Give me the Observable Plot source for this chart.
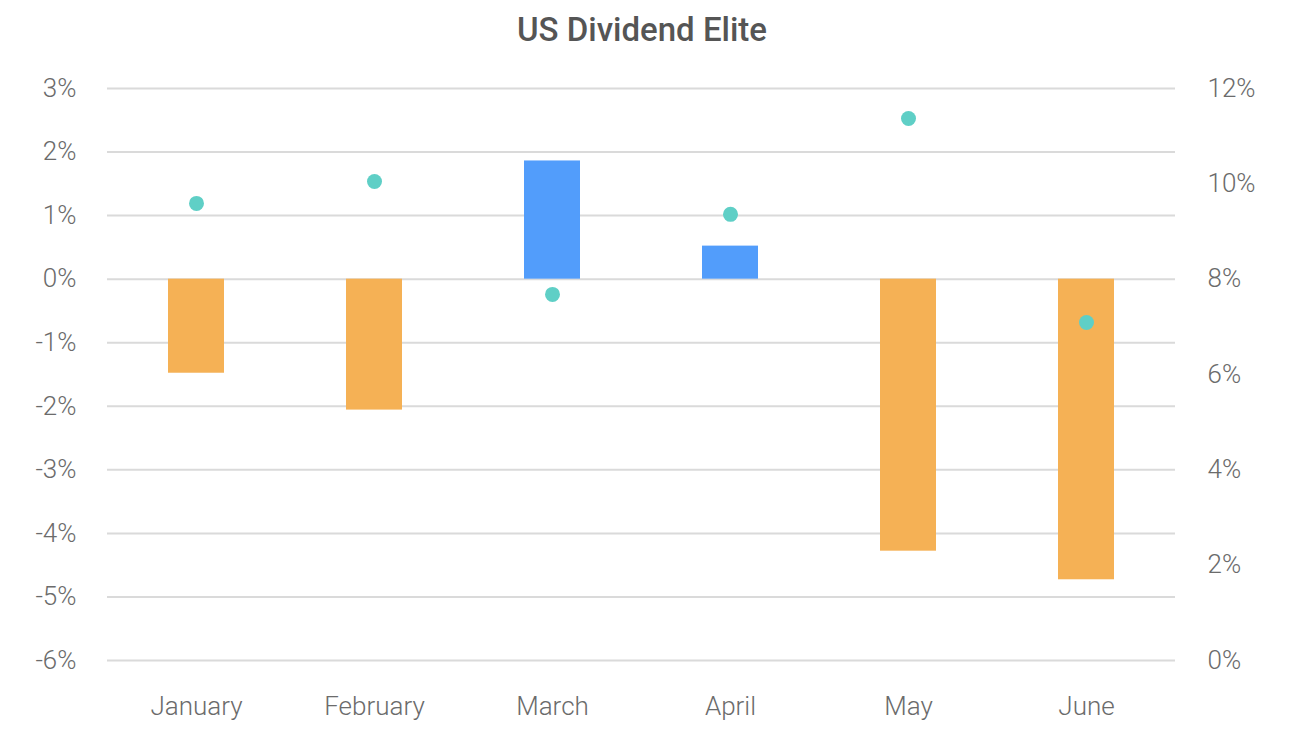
<!DOCTYPE html>
<html>
<head>
<meta charset="utf-8">
<script src="https://cdn.jsdelivr.net/npm/d3@7"></script>
<script src="https://cdn.jsdelivr.net/npm/@observablehq/plot@0.6"></script>
<style>
  html, body { margin: 0; padding: 0; background: #fff; }
  #wrap { position: relative; width: 1294px; height: 729px; }
  #title { position: absolute; left: -5px; top: 10px; width: 1294px; text-align: center;
    font-family: Roboto, "Open Sans", sans-serif; font-weight: 500; font-size: 33px; color: #555; letter-spacing: 0px; }
  #chart { position: absolute; left: 0; top: 0; }
</style>
</head>
<body>
<div id="wrap">
  <div id="chart"></div>
  <div id="title">US Dividend Elite</div>
</div>
<script>
const months = ["January", "February", "March", "April", "May", "June"];
const monthlyReturn = [-1.48, -2.06, 1.86, 0.52, -4.28, -4.73];   // left axis, %
const yieldValue = [9.59, 10.05, 7.68, 9.36, 11.37, 7.09];          // right axis, %
const leftTicks = [3, 2, 1, 0, -1, -2, -3, -4, -5, -6];
const rightTicks = [0, 2, 4, 6, 8, 10, 12];

const leftDomain = [-6, 3];
const rightDomain = [0, 12];
// map right-axis value onto left-axis scale
const toLeft = v => leftDomain[0] + (v - rightDomain[0]) * (leftDomain[1] - leftDomain[0]) / (rightDomain[1] - rightDomain[0]);
const fromLeft = l => rightDomain[0] + (l - leftDomain[0]) * (rightDomain[1] - rightDomain[0]) / (leftDomain[1] - leftDomain[0]);

const bars = months.map((m, i) => ({month: m, value: monthlyReturn[i]}));
const dots = months.map((m, i) => ({month: m, value: yieldValue[i]}));

const font = "Roboto, 'Open Sans', sans-serif";

const chart = Plot.plot({
  width: 1294,
  height: 729,
  marginLeft: 107,
  marginRight: 119,
  marginTop: 88,
  marginBottom: 69,
  style: {fontFamily: font, fontSize: "26px", color: "#6b6b6b", background: "transparent"},
  x: {domain: months, paddingInner: 0.685, paddingOuter: 0.3425, label: null},
  y: {domain: leftDomain, label: null},
  marks: [
    Plot.ruleY(leftTicks, {stroke: "#dadada", strokeWidth: 2}),
    Plot.barY(bars, {x: "month", y: "value", fill: d => d.value >= 0 ? "#529dfb" : "#f5b155"}),
    Plot.dot(dots, {x: "month", y: d => toLeft(d.value), r: 7.5, fill: "#5fcfc6", stroke: "none"}),
    Plot.axisY(leftTicks, {anchor: "left", tickSize: 0, tickPadding: 31, tickFormat: d => d + "%", fontWeight: 300, label: null}),
    Plot.axisY(rightTicks.map(toLeft), {anchor: "right", tickSize: 0, tickPadding: 32, tickFormat: d => Math.round(fromLeft(d)) + "%", fontWeight: 300, label: null}),
    Plot.axisX({tickSize: 0, tickPadding: 36, fontWeight: 300, label: null})
  ]
});
document.getElementById("chart").appendChild(chart);
</script>
</body>
</html>
